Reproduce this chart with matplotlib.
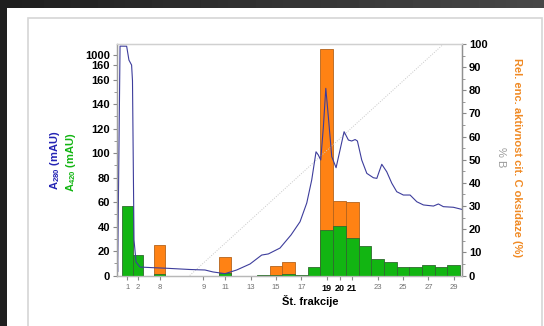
import numpy as np
import matplotlib
matplotlib.use('Agg')
import matplotlib.pyplot as plt
from matplotlib.patches import Rectangle

plt.rcParams['font.family'] = ['Liberation Sans', 'DejaVu Sans']
plt.rcParams['mathtext.fontset'] = 'custom'
plt.rcParams['mathtext.rm'] = 'Liberation Sans:bold'
plt.rcParams['mathtext.bf'] = 'Liberation Sans:bold'

# --- data ---
# fraction number and its position on the elution axis
fractions = [1, 2, 8, 11, 13, 14, 15, 16, 17, 18, 19, 20, 21, 22, 23, 24, 25, 26, 27, 28, 29]
frac_pos = [3.27, 4.12, 5.83, 11, 13, 14, 15, 16, 17, 18, 19, 20, 21, 22, 23, 24, 25, 26, 27, 28, 29]
frac_width = [0.87, 0.84, 0.89, 0.92] + [1.0] * 17
# A420 (mAU), green bars
a420 = [57, 17, 1, 2, 0, 0.8, 0.8, 1.5, 0.6, 7, 37, 40.5, 30.5, 24.3, 13.5, 11.3, 7, 7, 8.3, 7, 8.5]
# relative cyt. c oxidase activity (%), orange bars
activity = [0, 0, 13, 8, 0, 0, 4.2, 5.8, 0, 0, 98, 32, 31.7, 0, 0, 0, 0, 0, 0, 0, 0]

# x tick labels
tick_labels = ['1', '2', '8', '9', '11', '13', '15', '17', '19', '20', '21', '23', '25', '27', '29']
tick_pos = [3.27, 4.12, 5.83, 9.27, 11, 13, 15, 17, 19, 20, 21, 23, 25, 27, 29]
bold_ticks = ['19', '20', '21']

# A280 trace (mAU)
a280_x = [2.47, 2.52, 2.71, 3.23, 3.41, 3.62, 3.69, 3.81, 3.97, 4.28, 5.07, 6.39, 8.22, 9.40,
          10.03, 10.98, 11.90, 12.95, 13.87, 14.39, 15.31, 16.18, 16.89, 17.42, 17.81, 18.15,
          18.33, 18.52, 18.73, 18.92, 19.12, 19.39, 19.73, 20.04, 20.36, 20.70, 20.96, 21.23,
          21.41, 21.75, 22.15, 22.67, 22.94, 23.12, 23.33, 23.72, 24.12, 24.51, 25.03, 25.56,
          26.09, 26.61, 27.40, 27.79, 28.18, 28.97, 29.63]
a280_y = [33, 3, 1850, 1840, 667, 462, 159, 29, 11, 6.9, 6.5, 5.9, 4.9, 4.5,
          2.9, 1.5, 4.5, 9.4, 16.7, 17.6, 22.4, 33.1, 43.9, 59.2, 78, 101,
          98.4, 94.3, 121.5, 152.8, 129.6, 97, 88, 102.4, 117.4, 110.6, 109.8, 111,
          109.8, 94.3, 83.4, 79.8, 79.3, 84.7, 90.8, 84.7, 75.3, 68.4, 65.7, 65.7,
          60.2, 57.6, 56.7, 58.4, 56.2, 55.7, 54]

# %B gradient
grad_x = [8.2, 28.2]
grad_b = [0, 100]

left_ticks = [0, 20, 40, 60, 80, 100, 120, 140, 160, 460, 1000]
left_labels = ['0', '20', '40', '60', '80', '100', '120', '140', '160', '160', '1000']


# broken left axis: linear to 160, compressed above
def fwd(v):
    v = np.asarray(v, dtype=float)
    return np.where(v <= 160, v, 160 + 20.4 * np.log10(np.maximum(v, 160) / 160) / np.log10(6.25))


def inv(y):
    y = np.asarray(y, dtype=float)
    return np.where(y <= 160, y, 160 * 6.25 ** ((np.maximum(y, 160) - 160) / 20.4))


W, H = 544, 326
fig = plt.figure(figsize=(W / 100, H / 100), dpi=100)
fig.patch.set_facecolor('white')

# dark frame around the picture
band = fig.add_axes([0, 1 - 8 / H, 1, 8 / H])
band.imshow(np.linspace(0, 1, 100)[None, :], cmap='gray', vmin=-0.75, vmax=5.5,
            aspect='auto', extent=[0, 1, 0, 1])
band.axis('off')
fig.patches.append(Rectangle((0, 0), 7 / W, 1, transform=fig.transFigure,
                             facecolor='#1f1f1f', edgecolor='none', zorder=0))
fig.patches.append(Rectangle((27.5 / W, -0.05), (541.5 - 27.5) / W, 1.05 - 17.5 / H,
                             transform=fig.transFigure, facecolor='none',
                             edgecolor='#d6d6d6', lw=1.2, zorder=0))

ax = fig.add_axes([117 / W, (H - 275.5) / H, 345 / W, 231.5 / H])
ax2 = ax.twinx()
ax.set_zorder(ax2.get_zorder() + 1)
ax.patch.set_visible(False)

ax.set_yscale('function', functions=(fwd, inv))
ax.set_xlim(2.47, 29.65)
ax.set_ylim(0, float(inv(189)))
ax2.set_ylim(0, 100)

# orange activity bars (right axis) behind green A420 bars
ax2.bar(frac_pos, activity, width=frac_width, color='#ff8214', edgecolor='#b4631c', lw=0.6)
ax2.plot(grad_x, grad_b, color='#c8c8c8', lw=0.7, ls=(0, (1, 1.5)))
ax.bar(frac_pos, a420, width=frac_width, color='#12b512', edgecolor='#2f6a2f', lw=0.6)
ax.plot(a280_x, a280_y, color='#3d3d9c', lw=0.8)

# left axis
ax.set_yticks(left_ticks)
ax.set_yticklabels(left_labels, fontweight='bold', fontsize=8)
ax.set_yticks([10, 30, 50, 70, 90, 110, 130, 150], minor=True)
ax.tick_params(axis='y', which='both', direction='out', length=3, color='#888888', pad=2)
ax.tick_params(axis='y', which='minor', length=2)

# right axis
ax2.set_yticks(range(0, 101, 10))
ax2.set_yticklabels([str(v) for v in range(0, 101, 10)], fontweight='bold', fontsize=8)
ax2.set_yticks(range(5, 100, 10), minor=True)
ax2.tick_params(axis='y', which='both', direction='out', length=3, color='#888888', pad=2)
ax2.tick_params(axis='y', which='minor', length=2)

# x axis
ax.set_xticks(tick_pos)
ax.set_xticklabels(tick_labels)
ax.tick_params(axis='x', direction='out', length=3, color='#888888', pad=3)
for lbl in ax.get_xticklabels():
    if lbl.get_text() in bold_ticks:
        lbl.set_fontweight('bold')
        lbl.set_fontsize(6.5)
        lbl.set_color('black')
    else:
        lbl.set_fontsize(5.5)
        lbl.set_color('#707070')

for a in (ax, ax2):
    a.spines['top'].set_color('#d0d0d0')
    a.spines['left'].set_color('#a0a0a0')
    a.spines['right'].set_color('#909090')
    a.spines['bottom'].set_color('#b8b8b8')
    for s in a.spines.values():
        s.set_linewidth(0.9)

# axis titles
fig.text(310 / W, 1 - 301 / H, 'Št. frakcije', ha='center', va='center',
         fontsize=8, fontweight='bold')
fig.text(55 / W, 1 - 160 / H, r'A$_{280}$ (mAU)', rotation=90, ha='center', va='center',
         fontsize=8, fontweight='bold', color='#2424b4')
fig.text(71.5 / W, 1 - 162 / H, r'A$_{420}$ (mAU)', rotation=90, ha='center', va='center',
         fontsize=8, fontweight='bold', color='#12b512')
fig.text(501 / W, 1 - 157 / H, '% B', rotation=-90, ha='center', va='center',
         fontsize=8, color='#9a9a9a')
fig.text(517 / W, 1 - 158 / H, 'Rel. enc. aktivnost cit. C oksidaze (%)', rotation=-90,
         ha='center', va='center', fontsize=8, fontweight='bold', color='#f08a24')

fig.savefig('out.png', dpi=100)
